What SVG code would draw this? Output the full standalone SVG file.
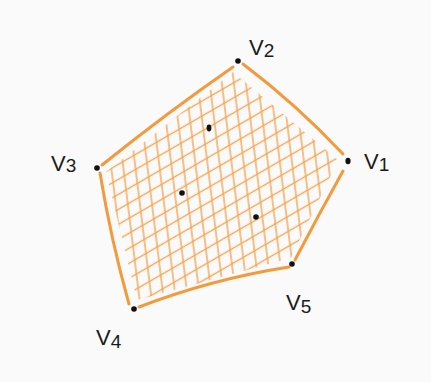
<svg xmlns="http://www.w3.org/2000/svg" width="431" height="382" viewBox="0 0 431 382">
<style>
.edge{fill:none;stroke:#f29a3c;stroke-width:3;stroke-linecap:round;stroke-linejoin:round}
.dot{fill:#111}
.lbl{font-family:"Liberation Sans",Arial,sans-serif;font-size:22px;fill:#1a1a1a}
.sub{font-size:19px}
.h{stroke:#f5a552;stroke-width:1.4}
</style>
<defs>
<pattern id="hv" patternUnits="userSpaceOnUse" width="12" height="12" patternTransform="rotate(-7)">
<line class="h" x1="6" y1="0" x2="6" y2="12"/>
</pattern>
<pattern id="hd" patternUnits="userSpaceOnUse" width="13" height="13" patternTransform="rotate(-30)">
<line class="h" x1="0" y1="6.5" x2="13" y2="6.5"/>
</pattern>
<clipPath id="inner">
<polygon points="106,172 233,72 338,160 291,258 137,300"/>
</clipPath>
</defs>
<rect width="431" height="382" fill="#fbfafa"/>
<g id="hatch" clip-path="url(#inner)">
<rect x="80" y="50" width="280" height="270" fill="url(#hv)"/>
<rect x="80" y="50" width="280" height="270" fill="url(#hd)"/>
</g>
<g id="connectors">
<path class="edge" d="M233,67 Q168,112 102,165"/>
<path class="edge" d="M243,64 Q296,104 343,154"/>
<path class="edge" d="M343,171 Q318,216 295,260"/>
<path class="edge" d="M289,267 Q212,279 139,307"/>
<path class="edge" d="M129,304 Q111,240 100,173"/>
</g>
<g id="V1"><ellipse class="dot" cx="348" cy="161" rx="2.6" ry="3.2"/><text class="lbl" x="364" y="169">V<tspan class="sub" dy="2">1</tspan></text></g>
<g id="V2"><circle class="dot" cx="238" cy="61" r="2.8"/><text class="lbl" x="249" y="55">V<tspan class="sub" dy="2">2</tspan></text></g>
<g id="V3"><circle class="dot" cx="97" cy="168" r="2.8"/><text class="lbl" x="51" y="171">V<tspan class="sub" dy="1">3</tspan></text></g>
<g id="V4"><circle class="dot" cx="134" cy="309" r="2.8"/><text class="lbl" x="96" y="345">V<tspan class="sub" dy="3">4</tspan></text></g>
<g id="V5"><circle class="dot" cx="292" cy="264" r="2.8"/><text class="lbl" x="286" y="310">V<tspan class="sub" dy="3">5</tspan></text></g>
<g id="P1"><ellipse class="dot" cx="209" cy="128" rx="2.4" ry="3.4"/></g>
<g id="P2"><circle class="dot" cx="182" cy="193" r="2.8"/></g>
<g id="P3"><circle class="dot" cx="256" cy="217" r="2.8"/></g>
</svg>
